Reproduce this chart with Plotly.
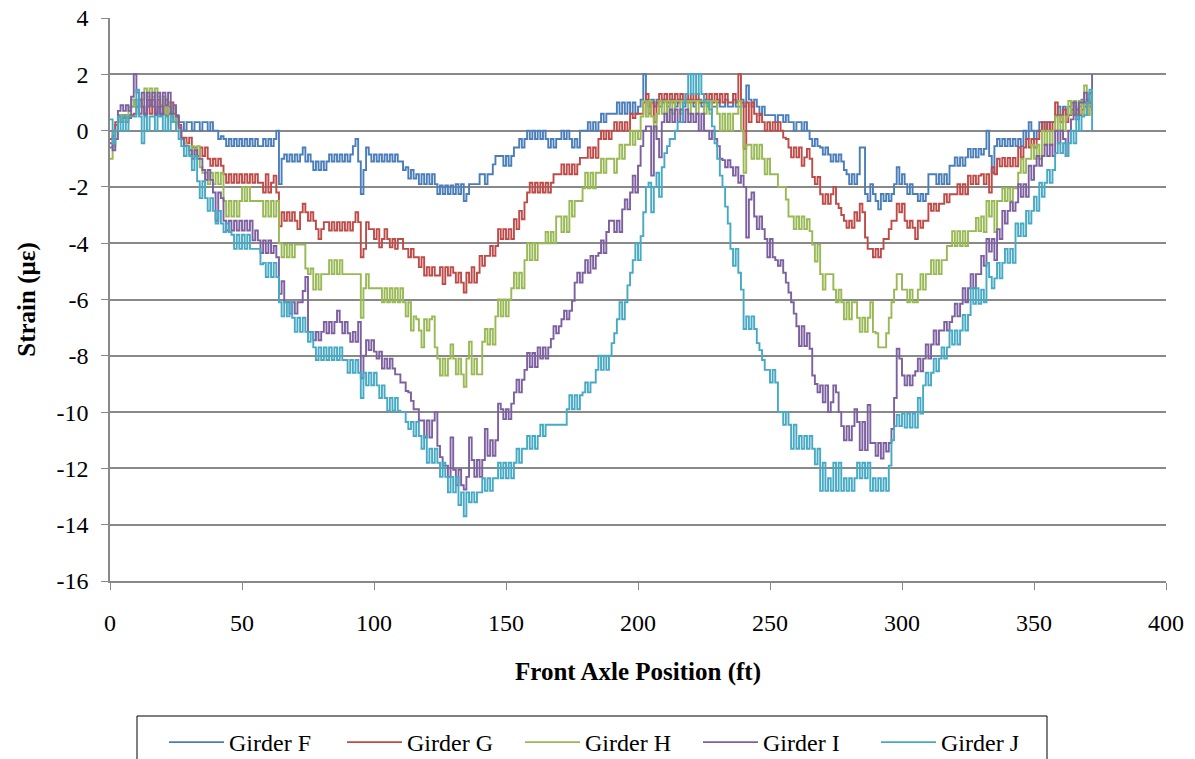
import plotly.graph_objects as go

# Front axle position of each strain sample (ft)
POSITION_FT = list(range(0, 373))

# Measured strain (microstrain) per girder, one value per foot of axle travel
GIRDER_F = [
    -0.6, -0.2, 0.2, 0.5, 0.3, 0.55, 0.3, 0.55, 0.85, 1.1,
    0.85, 1.1, 0.85, 0.55, 0.85, 1.1, 0.85, 0.55, 0.85, 0.55,
    0.85, 0.55, 0.85, 0.55, 0.3, 0.55, 0.3, 0.3, 0, 0.3,
    0.3, 0, 0.3, 0.3, 0, 0.3, 0.3, 0, 0.3, 0,
    0, -0.3, -0.2, -0.3, -0.55, -0.3, -0.55, -0.3, -0.55, -0.3,
    -0.55, -0.3, -0.55, -0.3, -0.55, -0.3, -0.55, -0.55, -0.3, -0.55,
    -0.3, -0.55, -0.3, 0, -1.9, -1.0, -0.85, -1.1, -0.85, -1.1,
    -0.85, -1.1, -0.85, -0.6, -1.1, -0.85, -1.1, -1.4, -1.1, -1.4,
    -1.1, -1.4, -1.1, -0.85, -1.1, -0.85, -1.1, -0.85, -1.1, -0.85,
    -1.1, -0.85, -0.55, -0.3, -1.1, -2.25, -1.4, -0.6, -0.85, -1.1,
    -0.85, -1.1, -0.85, -1.1, -0.85, -1.1, -0.85, -1.1, -0.85, -1.1,
    -1.1, -1.4, -1.3, -1.7, -1.4, -1.7, -1.55, -1.9, -1.55, -1.9,
    -1.55, -1.9, -1.55, -1.9, -2.25, -1.95, -2.25, -1.95, -2.25, -1.95,
    -2.25, -1.9, -2.25, -1.9, -2.5, -2.25, -1.9, -1.9, -1.9, -1.9,
    -1.55, -1.55, -1.9, -1.55, -1.55, -1.2, -0.9, -0.9, -0.9, -1.25,
    -0.9, -1.25, -0.9, -0.6, -0.6, -0.3, -0.6, -0.3, 0, -0.3,
    0, -0.3, 0, -0.3, 0, -0.3, -0.6, -0.3, -0.6, -0.3,
    -0.3, 0, -0.3, 0, -0.3, -0.6, -0.3, -0.6, 0, 0,
    0, 0.3, 0, 0.3, 0, 0.3, 0.6, 0.3, 0.6, 0.6,
    0.6, 0.6, 1.0, 0.6, 1.0, 0.6, 1.0, 0.6, 1.0, 0.6,
    0.85, 1.1, 2.0, 1.1, 0.85, 1.1, 0.85, 1.1, 0.85, 1.1,
    1.1, 0.85, 1.1, 1.1, 0.85, 1.1, 1.1, 0.85, 1.1, 1.1,
    1.1, 0.85, 1.1, 1.1, 0.85, 1.1, 0.85, 1.1, 0.85, 0.85,
    1.1, 0.85, 0.85, 1.1, 0.85, 0.85, 1.1, 0.85, 0.85, 1.1,
    0.85, 1.6, 1.1, 0.85, 1.1, 0.85, 0.55, 0.85, 0.55, 0.55,
    0.55, 0.55, 0.3, 0.55, 0.55, 0.3, 0.55, 0.3, 0.3, 0,
    0.3, 0.3, 0, 0.3, 0, -0.3, -0.55, -0.3, -0.55, -0.6,
    -0.85, -0.6, -0.85, -1.1, -0.85, -1.1, -0.85, -1.1, -1.4, -1.55,
    -1.9, -1.55, -1.9, -1.55, -0.6, -0.6, -2.25, -2.5, -1.9, -2.25,
    -2.5, -2.8, -2.25, -2.5, -2.25, -2.5, -2.25, -1.9, -1.3, -1.9,
    -1.55, -1.9, -2.25, -1.9, -2.25, -2.25, -2.5, -2.25, -2.5, -2.25,
    -1.55, -1.55, -1.55, -1.9, -1.55, -1.9, -1.55, -1.9, -1.25, -1.25,
    -0.95, -1.25, -0.95, -1.25, -0.95, -0.65, -0.95, -0.65, -0.95, -0.65,
    -0.85, -0.65, 0, -0.9, -1.5, -0.55, -0.3, -0.55, -0.3, -0.55,
    -0.3, -0.55, -0.3, -0.55, -0.3, -0.55, 0, -0.3, 0.3, 0,
    -0.3, 0, 0.3, 0, 0.3, 0, 0.3, 0.3, 0.55, 0.85,
    0.55, 0.85, 0.55, 0.85, 1.0, 0.85, 0.55, 0.85, 1.1, 0.85,
    1.1, 0.85, 0.7,
]

GIRDER_G = [
    -0.3, 0, 0.3, 0.55, 0.55, 0.45, 0.55, 0.45, 0.55, 0.6,
    0.85, 1.1, 0.85, 0.6, 1.1, 0.6, 1.1, 0.6, 1.1, 0.85,
    0.6, 1.1, 0.6, 1.0, 0.6, 0.5, 0.2, -0.25, -0.25, -0.45,
    -0.25, -0.6, -0.6, -0.9, -0.6, -0.9, -0.6, -1.0, -1.25, -1.0,
    -1.25, -1.0, -1.25, -1.55, -1.85, -1.55, -1.85, -1.55, -1.85, -1.55,
    -1.85, -1.55, -1.85, -1.55, -1.85, -1.55, -1.85, -1.85, -2.2, -1.55,
    -2.2, -1.85, -1.6, -2.2, -3.4, -2.9, -3.2, -2.9, -3.2, -2.9,
    -3.2, -3.5, -2.9, -2.6, -2.9, -3.2, -2.9, -3.2, -3.5, -3.85,
    -3.5, -3.25, -3.25, -3.55, -3.25, -3.55, -3.25, -3.55, -3.25, -3.55,
    -3.25, -3.55, -3.25, -2.9, -3.25, -4.5, -4.2, -3.25, -3.5, -3.5,
    -3.85, -3.5, -4.15, -3.85, -3.5, -3.85, -4.15, -3.85, -4.2, -3.85,
    -3.85, -4.2, -4.2, -4.5, -4.2, -4.5, -4.5, -4.85, -4.5, -5.15,
    -4.85, -5.15, -4.85, -5.15, -5.15, -4.85, -5.45, -4.85, -5.15, -4.85,
    -5.05, -5.4, -5.05, -5.4, -5.75, -5.05, -5.4, -4.85, -5.4, -5.05,
    -4.45, -4.8, -4.45, -4.45, -4.1, -4.45, -4.1, -3.5, -3.85, -3.5,
    -3.85, -3.5, -3.85, -3.15, -3.5, -2.85, -3.15, -2.55, -2.2, -1.85,
    -2.2, -1.85, -2.2, -1.85, -2.2, -1.85, -2.2, -1.85, -1.55, -1.55,
    -1.55, -1.2, -1.55, -1.2, -1.55, -1.2, -1.55, -1.2, -0.97, -0.97,
    -0.97, -0.6, -0.97, -0.6, -0.97, -0.3, 0, -0.3, 0, -0.3,
    0, 0.3, 0, 0.3, 0, 0.3, 0, 0.6, 0.45, 0.6,
    0.6, 0.6, 1.0, 1.3, 0.6, 1.0, 0.3, 1.0, 1.3, 1.0,
    1.3, 1.0, 1.3, 1.0, 1.3, 1.0, 1.3, 1.0, 1.3, 1.0,
    1.3, 1.0, 1.3, 1.0, 1.0, 1.3, 1.0, 1.3, 1.0, 1.3,
    1.0, 1.3, 1.0, 1.3, 1.0, 1.0, 1.3, 1.0, 2.0, 1.0,
    -0.65, 1.0, 0.3, 1.0, 0.6, 0.3, 0.6, 0.3, 0, 0.3,
    0, 0.3, 0, 0.3, 0, -0.25, -0.3, -0.6, -0.95, -0.6,
    -0.95, -0.6, -1.25, -0.95, -0.65, -1.0, -1.65, -1.9, -1.65, -2.26,
    -2.6, -2.26, -2.6, -2.26, -2.0, -2.6, -2.75, -3.0, -3.2, -3.45,
    -3.2, -3.45, -2.9, -3.2, -2.6, -2.9, -3.8, -4.2, -4.2, -4.5,
    -4.2, -4.5, -4.2, -3.85, -3.85, -3.5, -3.2, -3.2, -2.6, -2.9,
    -2.6, -3.2, -3.45, -3.2, -3.45, -3.85, -3.2, -3.45, -3.2, -3.2,
    -2.6, -2.85, -2.6, -2.85, -2.6, -2.6, -2.26, -2.55, -2.26, -2.26,
    -2.26, -1.9, -2.26, -1.9, -2.26, -1.6, -1.9, -1.6, -1.9, -1.6,
    -1.55, -1.9, -1.55, -2.2, -1.3, -1.55, -1.0, -1.27, -0.97, -1.27,
    -0.97, -1.27, -0.97, -1.27, -0.6, -0.95, -0.6, -0.3, -0.6, -0.3,
    -0.6, -0.3, 0, 0.3, 0, 0.3, 0, 0.3, 1.0, 0.55,
    0.3, 0.75, 0.3, 0.55, 0.75, 0.55, 0.75, 0.55, 0.75, 1.0,
    0.55, 1.0, 0.75,
]

GIRDER_H = [
    -1.0, -0.55, 0, 0.3, 0.55, 0.3, 0.55, 0.85, 1.1, 0.85,
    1.1, 0.85, 1.1, 1.5, 1.2, 1.5, 1.2, 1.5, 1.2, 0.9,
    1.2, 0.6, 1.0, 0.3, 0.8, 0.3, 0, -0.3, -0.45, -0.55,
    -0.85, -0.55, -0.85, -0.55, -1.3, -1.5, -1.5, -1.9, -1.5, -1.9,
    -1.5, -1.9, -1.5, -2.5, -3.05, -2.5, -3.05, -2.5, -3.05, -2.5,
    -2.0, -2.5, -2.0, -2.5, -2.5, -2.5, -2.5, -2.5, -3.05, -2.5,
    -3.05, -2.5, -3.05, -2.5, -4.0, -4.5, -4.05, -4.5, -4.05, -4.5,
    -4.05, -4.05, -4.05, -4.05, -4.9, -5.1, -4.9, -5.65, -5.1, -5.65,
    -5.1, -5.1, -5.1, -4.6, -5.1, -4.6, -5.1, -4.6, -5.1, -5.1,
    -5.1, -5.1, -5.1, -5.1, -5.1, -6.65, -5.6, -5.1, -5.6, -5.6,
    -5.6, -5.6, -5.6, -6.1, -5.6, -6.1, -5.6, -6.1, -5.6, -6.1,
    -5.6, -6.1, -6.6, -6.1, -7.1, -6.6, -6.7, -7.1, -7.7, -6.7,
    -7.1, -6.7, -6.6, -7.7, -8.1, -8.7, -8.1, -8.7, -8.1, -7.6,
    -8.1, -8.66, -8.1, -8.66, -9.1, -8.1, -7.5, -8.66, -8.1, -8.66,
    -8.66, -7.5, -7.05, -7.6, -7.05, -7.6, -6.6, -6.0, -6.6, -6.0,
    -6.6, -6.0, -5.6, -5.05, -5.6, -5.05, -5.6, -4.6, -4.0, -4.6,
    -4.0, -4.6, -4.0, -4.0, -4.0, -3.6, -4.0, -3.6, -4.0, -3.05,
    -3.05, -3.6, -3.05, -3.6, -2.5, -3.05, -2.5, -2.5, -2.5, -2.05,
    -1.5, -2.05, -1.5, -2.05, -1.5, -1.5, -1.0, -1.5, -1.0, -1.0,
    -1.0, -1.5, -1.0, -0.5, -1.0, -0.5, -0.5, 0, -0.5, 0,
    -0.3, 0.5, 1.05, 0.5, 1.05, 0.5, 0, 0.6, 1.05, 0.6,
    1.05, 0.3, 1.05, 0.6, 1.05, 1.05, 0.6, 1.05, 1.05, 0.6,
    1.05, 1.05, 0.6, 1.05, 1.05, 0.6, 1.05, 0.6, 1.05, 1.05,
    0.6, 0, 0.6, 0, 0.6, 0, 0.6, 0.6, 1.05, 0,
    -1.5, -0.5, -0.5, -1.0, -0.5, -1.0, -0.5, -1.0, -1.55, -1.0,
    -1.55, -1.55, -1.55, -2.0, -2.0, -2.0, -2.45, -3.05, -3.05, -3.5,
    -3.05, -3.5, -3.05, -3.5, -3.15, -3.57, -4.05, -4.65, -4.05, -5.1,
    -5.65, -5.1, -5.1, -5.1, -5.65, -6.1, -5.65, -6.1, -6.7, -6.1,
    -6.7, -6.1, -6.1, -6.65, -7.15, -6.65, -7.15, -6.65, -6.1, -7.15,
    -7.2, -7.7, -7.7, -7.7, -7.2, -6.65, -6.1, -5.65, -5.1, -5.1,
    -5.65, -5.65, -6.1, -5.65, -6.1, -6.1, -5.65, -5.1, -5.65, -5.1,
    -5.1, -4.6, -5.1, -4.6, -5.1, -4.6, -4.6, -4.1, -4.1, -3.57,
    -4.1, -3.57, -4.1, -3.57, -4.1, -3.57, -3.57, -3.57, -3.1, -3.57,
    -3.05, -3.6, -2.5, -3.05, -2.5, -3.6, -2.5, -2.5, -2.05, -2.5,
    -2.05, -2.5, -2.05, -2.05, -1.5, -1.0, -1.5, -1.0, -1.0, -0.5,
    -1.0, -0.5, -1.0, 0, -0.5, 0, -0.5, 0, 0.5, 0,
    0.5, 0, 0.5, 1.05, 0.6, 1.05, 0.6, 1.05, 0.6, 1.6,
    0.55, 1.3, 0.8,
]

GIRDER_I = [
    -0.45, -0.7, -0.3, 0.7, 0.9, 0.7, 0.9, 0.7, 1.2, 2.0,
    1.35, 0.6, 1.35, 0.6, 1.35, 0.9, 1.35, 0.6, 1.35, 0.6,
    1.35, 0.9, 1.35, 0.6, 0.9, 0.5, 0.1, -0.3, -0.55, -0.55,
    -0.7, -1.0, -0.7, -1.0, -1.0, -1.4, -1.75, -1.4, -1.75, -2.2,
    -3.2, -2.2, -2.4, -3.2, -3.55, -3.2, -3.55, -3.2, -3.55, -3.2,
    -3.55, -3.2, -3.55, -3.2, -3.9, -3.55, -3.9, -4.35, -3.9, -4.35,
    -3.9, -4.35, -4.1, -4.5, -5.8, -5.35, -6.1, -6.1, -6.5, -6.1,
    -6.5, -6.1, -6.1, -5.7, -5.2, -7.15, -7.15, -7.45, -7.15, -7.45,
    -7.15, -6.8, -7.2, -6.8, -7.2, -6.8, -6.4, -6.8, -7.2, -6.8,
    -7.2, -7.5, -7.15, -7.5, -6.8, -8.8, -8.0, -7.45, -7.8, -7.45,
    -7.85, -8.1, -7.85, -8.45, -8.1, -8.45, -8.1, -8.45, -8.66, -8.66,
    -8.95, -8.95, -9.25, -9.3, -9.6, -9.9, -9.9, -10.3, -10.3, -10.9,
    -10.3, -10.9, -10.3, -10.0, -11.2, -11.6, -11.9, -11.9, -12.3, -10.9,
    -12.05, -12.6, -12.05, -12.6, -12.75, -12.3, -10.9, -11.7, -12.3, -11.7,
    -12.3, -11.7, -10.6, -11.55, -11.0, -11.55, -11.0, -9.7, -9.9, -10.25,
    -9.9, -10.25, -9.7, -9.3, -8.85, -9.3, -8.85, -8.5, -7.9, -8.4,
    -7.9, -8.4, -7.7, -8.1, -7.7, -8.1, -7.7, -7.4, -6.95, -7.2,
    -6.95, -6.7, -6.4, -6.7, -6.4, -6.05, -5.4, -5.05, -5.4, -5.05,
    -4.6, -5.05, -4.45, -4.9, -4.45, -4.35, -3.9, -4.35, -3.6, -3.2,
    -3.2, -3.6, -3.2, -3.6, -2.8, -2.45, -2.8, -2.2, -1.6, -2.2,
    -1.25, -0.55, 0, 0.15, 0.15, -1.6, 0.15, -0.3, -0.95, 0.3,
    0.6, 0.3, 0.75, 0.3, 0.75, 0.3, 0.75, 0.3, 0.75, 0.3,
    0.6, 0.3, 0.6, 0, 0.6, 0, 0, -0.3, 0, -0.3,
    -0.55, -1.0, -1.05, -1.3, -1.05, -1.3, -1.6, -1.3, -1.85, -1.6,
    -2.0, -3.8, -2.45, -2.2, -3.05, -3.5, -3.05, -3.5, -3.85, -4.5,
    -3.85, -4.5, -4.6, -4.8, -4.6, -5.05, -5.4, -5.75, -6.1, -6.5,
    -6.95, -7.65, -6.95, -7.65, -7.2, -7.75, -8.7, -9.0, -9.3, -9.05,
    -9.65, -9.05, -10.0, -9.65, -9.05, -9.3, -10.0, -10.5, -11.0, -10.5,
    -11.0, -10.5, -9.9, -10.35, -11.35, -10.35, -11.35, -9.75, -11.1, -11.1,
    -11.55, -11.1, -11.65, -11.1, -11.4, -11.1, -10.6, -9.5, -7.75, -8.1,
    -8.7, -9.05, -8.7, -9.05, -8.7, -8.55, -8.1, -8.55, -8.1, -7.6,
    -8.1, -7.6, -7.1, -7.6, -7.1, -7.1, -6.8, -7.1, -6.8, -6.6,
    -6.15, -6.6, -6.15, -5.6, -6.1, -5.6, -5.1, -5.6, -5.1, -5.1,
    -4.45, -4.8, -3.85, -4.3, -3.85, -4.6, -3.5, -3.85, -2.85, -3.3,
    -2.85, -2.55, -2.85, -2.55, -1.9, -2.35, -1.9, -2.35, -1.25, -1.75,
    -1.25, -0.9, -1.25, -0.9, -0.5, -0.9, -0.5, -0.9, 0, -0.45,
    0, -0.3, -0.9, 0, 0.4, 1.0, 0.4, 1.0, 1.0, 1.35,
    1.0, 1.35, 2.0,
]

GIRDER_J = [
    0.4, -0.45, 0, 0.5, 0, 0.5, 0, 0.5, 0.5, 0.5,
    1.45, 0.5, -0.45, 0.5, 0, 0.5, 0.5, 0, 0.5, 0.5,
    0, 0.5, 0, 0.5, 0.3, 0, -0.3, -0.55, -0.9, -0.55,
    -0.9, -1.4, -0.9, -1.8, -2.4, -1.8, -2.4, -2.85, -2.4, -2.85,
    -3.3, -2.85, -3.3, -3.6, -3.3, -3.6, -3.7, -4.2, -3.7, -4.2,
    -3.7, -4.2, -3.7, -4.2, -4.2, -4.2, -4.2, -4.75, -4.7, -5.2,
    -4.7, -5.2, -4.7, -5.2, -6.1, -6.6, -6.1, -6.6, -6.1, -6.65,
    -7.15, -6.65, -7.15, -6.65, -7.15, -7.5, -7.15, -7.7, -8.15, -7.7,
    -8.15, -7.7, -8.15, -7.7, -8.15, -7.7, -8.15, -7.7, -8.15, -8.15,
    -8.6, -8.15, -8.6, -8.15, -8.6, -9.5, -8.6, -9.05, -8.6, -9.05,
    -8.6, -9.05, -9.5, -9.05, -9.5, -9.95, -9.5, -9.95, -9.5, -9.95,
    -10.0, -10.0, -10.35, -10.6, -10.35, -10.85, -10.35, -10.85, -11.3, -10.85,
    -11.8, -11.3, -11.8, -11.3, -11.8, -12.3, -11.8, -12.3, -12.85, -12.3,
    -12.85, -12.3, -13.3, -12.85, -13.7, -12.85, -13.2, -12.85, -13.2, -12.85,
    -12.85, -12.35, -12.8, -12.35, -12.8, -12.35, -12.35, -11.8, -12.35, -11.8,
    -12.35, -11.8, -12.35, -11.8, -11.3, -11.8, -11.3, -11.3, -10.85, -11.3,
    -10.85, -11.3, -10.85, -10.45, -10.85, -10.45, -10.45, -10.45, -10.45, -10.45,
    -10.45, -10.45, -10.45, -9.9, -9.4, -9.9, -9.4, -9.9, -9.4, -9.3,
    -8.95, -9.3, -8.95, -8.95, -8.5, -8.0, -8.5, -8.0, -8.5, -8.0,
    -7.55, -7.2, -6.7, -6.1, -6.7, -6.1, -5.5, -5.05, -4.6, -4.0,
    -4.6, -3.75, -2.9, -2.0, -1.85, -2.9, -2.0, -1.5, -2.35, -1.3,
    -0.8, -0.55, -0.3, -0.3, 0, 0.3, 0.3, 1.0, 1.3, 2.0,
    1.3, 2.0, 1.3, 2.0, 1.3, 1.0, 1.0, 0.75, 0.15, -0.45,
    -1.0, -1.6, -2.0, -2.7, -3.3, -4.2, -4.8, -4.2, -5.05, -5.65,
    -7.05, -6.6, -7.05, -6.6, -7.05, -7.55, -7.8, -8.15, -8.5, -8.5,
    -8.95, -8.5, -8.95, -10.0, -10.0, -10.45, -10.0, -10.45, -11.3, -10.45,
    -11.3, -10.85, -11.3, -10.85, -11.3, -10.85, -11.3, -11.85, -11.3, -12.8,
    -11.8, -12.8, -12.35, -12.8, -11.8, -12.8, -11.8, -12.8, -12.35, -12.8,
    -12.35, -12.8, -12.35, -11.8, -12.35, -11.8, -12.35, -11.8, -12.8, -12.35,
    -12.8, -12.35, -12.8, -12.35, -12.8, -11.9, -11.0, -10.5, -10.1, -10.5,
    -10.05, -10.55, -10.05, -10.55, -10.05, -10.55, -9.5, -10.05, -9.05, -8.6,
    -9.05, -8.6, -8.1, -8.55, -8.1, -7.7, -8.1, -7.7, -7.1, -7.6,
    -7.1, -7.6, -7.1, -6.55, -7.1, -6.55, -5.6, -6.15, -5.6, -6.15,
    -5.65, -6.1, -4.7, -5.2, -5.6, -5.25, -4.7, -5.25, -4.7, -4.2,
    -4.7, -4.2, -4.7, -3.3, -3.75, -3.3, -3.75, -2.85, -3.3, -2.85,
    -2.35, -2.85, -1.85, -2.35, -1.85, -1.4, -1.85, -1.4, -0.8, -0.45,
    -0.8, -0.45, -0.9, -0.45, 0, -0.45, 0.5, 0, 0.5, 0.55,
    1.0, 1.45, 0,
]

SERIES_NAMES = ["Girder F", "Girder G", "Girder H", "Girder I", "Girder J"]
SERIES_VALUES = [GIRDER_F, GIRDER_G, GIRDER_H, GIRDER_I, GIRDER_J]
SERIES_COLORS = ["#4A7EBB", "#BE4B48", "#98B954", "#7D60A0", "#46AAC5"]

X_TICKS = [0, 50, 100, 150, 200, 250, 300, 350, 400]
Y_TICKS = [4, 2, 0, -2, -4, -6, -8, -10, -12, -14, -16]

for vals in SERIES_VALUES:
    assert len(vals) == len(POSITION_FT), len(vals)

FONT = "Liberation Serif"
TICK_SIZE = 24
TITLE_SIZE = 25
AXIS_GRAY = "#898989"

fig = go.Figure()
for name, vals, color in zip(SERIES_NAMES, SERIES_VALUES, SERIES_COLORS):
    fig.add_trace(go.Scatter(
        x=POSITION_FT, y=vals, mode="lines", name=name,
        line=dict(color=color, width=1.9, shape="hv"),
    ))

# Frame around the legend row
fig.add_shape(
    type="rect", xref="paper", yref="paper",
    x0=(137 - 110) / 1056, x1=(1047 - 110) / 1056,
    y0=(581 - 716) / 563, y1=(581 - 780) / 563,
    line=dict(color="black", width=1), fillcolor="rgba(0,0,0,0)",
    layer="above",
)

fig.update_layout(
    width=1195, height=759,
    margin=dict(l=110, r=29, t=18, b=178, autoexpand=False),
    paper_bgcolor="white", plot_bgcolor="white",
    font=dict(family=FONT, size=TICK_SIZE, color="black"),
    showlegend=True,
    xaxis=dict(
        range=[0, 400], tickvals=X_TICKS, ticktext=[str(v) for v in X_TICKS],
        showgrid=False, zeroline=False, automargin=False,
        showline=True, linecolor=AXIS_GRAY, linewidth=1.5,
        ticks="outside", ticklen=7, tickwidth=1.2, tickcolor=AXIS_GRAY,
        ticklabelstandoff=12,
        tickfont=dict(family=FONT, size=TICK_SIZE, color="black"),
        title=dict(text="<b>Front Axle Position (ft)</b>", standoff=28,
                   font=dict(family=FONT, size=TITLE_SIZE, color="black")),
    ),
    yaxis=dict(
        range=[-16, 4], tickvals=Y_TICKS, ticktext=[str(v) for v in Y_TICKS],
        showgrid=True, gridcolor=AXIS_GRAY, gridwidth=1.5, zeroline=False,
        automargin=False,
        showline=True, linecolor=AXIS_GRAY, linewidth=1.5,
        ticks="outside", ticklen=7, tickwidth=1.2, tickcolor=AXIS_GRAY,
        ticklabelstandoff=8,
        tickfont=dict(family=FONT, size=TICK_SIZE, color="black"),
        title=dict(text="<b>Strain (με)</b>", standoff=14,
                   font=dict(family=FONT, size=TITLE_SIZE, color="black")),
    ),
    legend=dict(
        orientation="h", xref="container", yref="container",
        x=164 / 1195, xanchor="left", y=1 - 720 / 759, yanchor="top",
        borderwidth=0, bgcolor="rgba(0,0,0,0)",
        entrywidth=108, entrywidthmode="pixels",
        font=dict(family=FONT, size=TICK_SIZE, color="black"),
        itemwidth=55,
    ),
)

fig.write_html("out.html")
